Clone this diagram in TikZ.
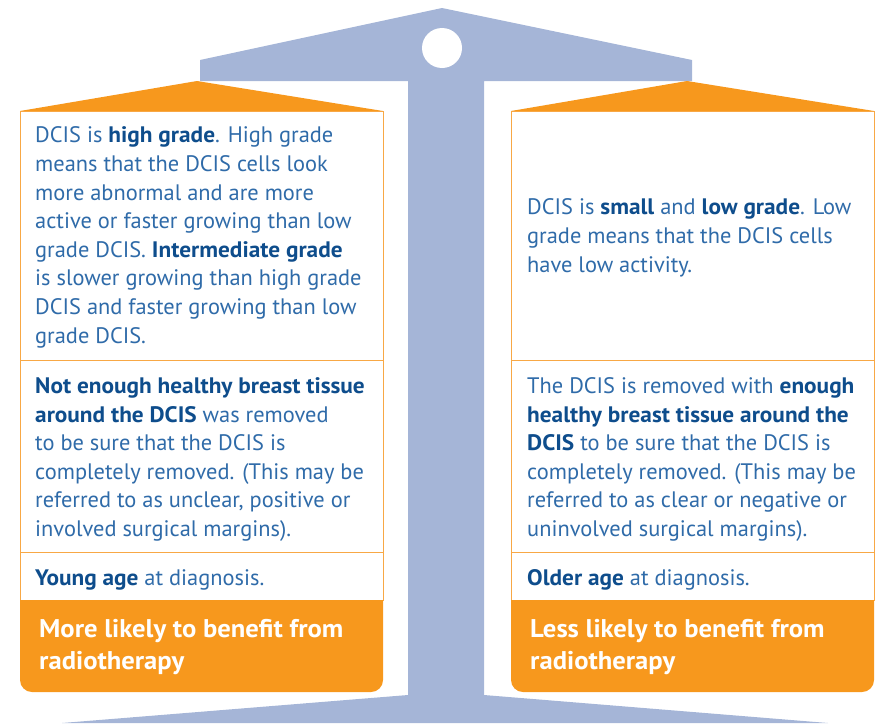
\documentclass[tikz,border=0pt]{standalone}
\usepackage{fontspec}
\setmainfont{PT Sans}[BoldFeatures={FakeStretch=1.04}]
\usetikzlibrary{positioning}
\definecolor{scaleblue}{HTML}{A5B5D7}
\definecolor{panorange}{HTML}{F7981D}
\definecolor{rowline}{HTML}{F8A845}
\definecolor{bodyblue}{HTML}{2F6BA9}
\definecolor{keyblue}{HTML}{0E4D8C}
\newcommand{\keyword}[1]{{\bfseries\color{keyblue}#1}}
\tikzset{
row/.style = {draw=rowline, line width=1.2pt, fill=white, rectangle, anchor=north west, inner sep=0pt, minimum width=363pt},
txt/.style = {anchor=base west, align=left, inner sep=0pt, text=bodyblue, font=\fontsize{22.4}{28.6}\selectfont},
verdict/.style = {anchor=base west, align=left, inner sep=0pt, text=white, font=\bfseries\fontsize{25.6}{32}\selectfont},
pan/.style = {fill=panorange}
}
\begin{document}
\begin{tikzpicture}[x=1pt, y=-1pt]
    \useasboundingbox (0,0) rectangle (877,723);
    % The scale behind the two pans
    \fill[scaleblue] (200,60) -- (442,8) -- (692,60) -- (692,81) -- (484,81) -- (484,695)
        -- (828,723) -- (62,723) -- (408,695) -- (408,81) -- (200,81) -- cycle;
    \fill[white] (442,48) circle (20pt);

    % Left pan
    \fill[pan] (20,111) -- (197,81) -- (383,111) -- cycle;
    \node[row, minimum height=249pt] (gradeL) at (20,111) {};
    \node[row, minimum height=192pt] (marginL) at (20,360) {};
    \node[row, minimum height=48pt] (ageL) at (20,552) {};
    \fill[pan] (20,600) [rounded corners=12pt] -- (20,692) -- (383,692) [sharp corners] -- (383,600) -- cycle;

    % Right pan
    \fill[pan] (511,111) -- (687,81) -- (874,111) -- cycle;
    \node[row, minimum height=249pt] (gradeR) at (511,111) {};
    \node[row, minimum height=192pt] (marginR) at (511,360) {};
    \node[row, minimum height=48pt] (ageR) at (511,552) {};
    \fill[pan] (511,600) [rounded corners=12pt] -- (511,692) -- (874,692) [sharp corners] -- (874,600) -- cycle;

    % Texts of the left pan (placed at the baseline of their last line)
    \node[txt] (gradeLtxt) at (35,343) {DCIS is \keyword{high grade}. High grade\\
        means that the DCIS cells look\\ more abnormal and are more\\
        active or faster growing than low\\ grade DCIS. \keyword{Intermediate grade}\\
        is slower growing than high grade\\ DCIS and faster growing than low\\ grade DCIS.};
    \node[txt] (marginLtxt) at (35,536.5) {\keyword{Not enough healthy breast tissue}\\
        \keyword{around the DCIS} was removed\\ to be sure that the DCIS is\\
        completely removed. (This may be\\ referred to as unclear, positive or\\
        involved surgical margins).};
    \node[txt] (ageLtxt) at (35,585) {\keyword{Young age} at diagnosis.};
    \node[verdict] (verdictL) at (39,669) {More likely to benefit from\\ radiotherapy};

    % Texts of the right pan
    \node[txt] (gradeRtxt) at (527,272) {DCIS is \keyword{small} and \keyword{low grade}. Low\\
        grade means that the DCIS cells\\ have low activity.};
    \node[txt] (marginRtxt) at (527,536.5) {The DCIS is removed with \keyword{enough}\\
        \keyword{healthy breast tissue around the}\\ \keyword{DCIS} to be sure that the DCIS is\\
        completely removed. (This may be\\ referred to as clear or negative or\\
        uninvolved surgical margins).};
    \node[txt] (ageRtxt) at (527,585) {\keyword{Older age} at diagnosis.};
    \node[verdict] (verdictR) at (530,669) {Less likely to benefit from\\ radiotherapy};
\end{tikzpicture}
\end{document}
